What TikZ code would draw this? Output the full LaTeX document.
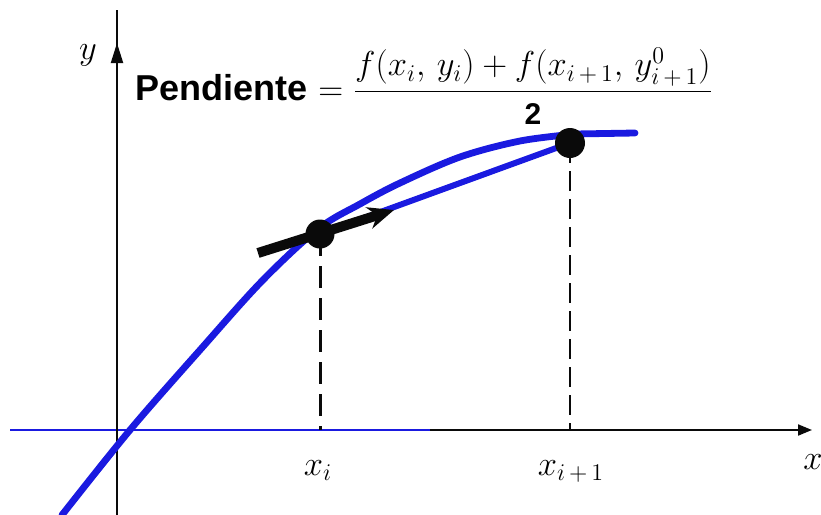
\documentclass[tikz,border=0pt]{standalone}
\usepackage{amsmath}
\usepackage{fontspec}
\setsansfont{Liberation Sans}
\usetikzlibrary{arrows.meta}
\definecolor{curveblue}{HTML}{1A1AE0}
\definecolor{ink}{HTML}{0A0A0A}

\begin{document}
\begin{tikzpicture}[x=0.5pt,y=-0.5pt,
  axis/.style={line width=1pt, draw=ink},
  curve/.style={line width=3.4pt, draw=curveblue, line cap=round, line join=round},
  dot/.style={circle, fill=ink, inner sep=0pt, minimum size=14.5pt},
  guide/.style={draw=ink, dash pattern=on 11pt off 5pt},
  lbl/.style={font=\fontsize{17}{20}\selectfont, inner sep=1pt},
  slopearrow/.style={-{Stealth[length=13pt,width=11pt]}, line width=5pt, draw=ink}
]
\useasboundingbox (0,0) rectangle (821,515);

% axes
\coordinate (xa0) at (10,430);
\coordinate (xa1) at (812,430);
\coordinate (ya0) at (117,515);
\coordinate (ya1) at (117,10);
\draw[axis, -{Triangle[length=7pt,width=5.5pt]}] (xa0) -- (xa1);
\draw[line width=1.4pt, draw=curveblue] (xa0) -- (430,430);
\draw[axis] (ya0) -- (ya1);
\draw[axis, -{Triangle[length=10pt,width=6pt]}] (117,70) -- (117,43);
\node[lbl] (ylab) at (88,55) {$y$};
\node[lbl] (xlab) at (813,462) {$x$};

% points
\coordinate (p1) at (320,234);
\coordinate (p2) at (570,143);

% curve and averaged slope
\draw[curve] plot[smooth, tension=0.55] coordinates {(62,515) (130,430) (200,350) (262,281) (318,229) (360,204) (400,183) (460,157) (520,141) (575,134)} -- (635,133);
\draw[curve, line width=3pt] (p1) -- (p2);

% guides to the x axis
\draw[guide, line width=1.5pt] (p1) -- (p1 |- xa0);
\draw[guide, line width=0.7pt, dash pattern=on 10pt off 4pt] (p2) -- (p2 |- xa0);
\node[lbl, below=14pt] (xi) at (318,430) {$x_i$};
\node[lbl, below=14pt] (xip) at (571,430) {$x_{i\,+\,1}$};

% slope at x_i
\coordinate (ts) at (258,253);
\coordinate (te) at (394,210);
\draw[slopearrow] (ts) -- (te);

\node[dot] (d1) at (p1) {};
\node[dot, minimum size=15pt] (d2) at (p2) {};

% formula
\node[anchor=base west, inner sep=0pt, font=\fontsize{18}{22}\selectfont] (pend) at (135,100)
  {\textsf{\bfseries Pendiente} $= \dfrac{f(x_i,\,y_i) + f(x_{i\,+\,1},\,y^0_{i\,+\,1})}{\rule{0pt}{14pt}\textsf{\bfseries\fontsize{15}{16}\selectfont 2}}$};
\end{tikzpicture}
\end{document}
